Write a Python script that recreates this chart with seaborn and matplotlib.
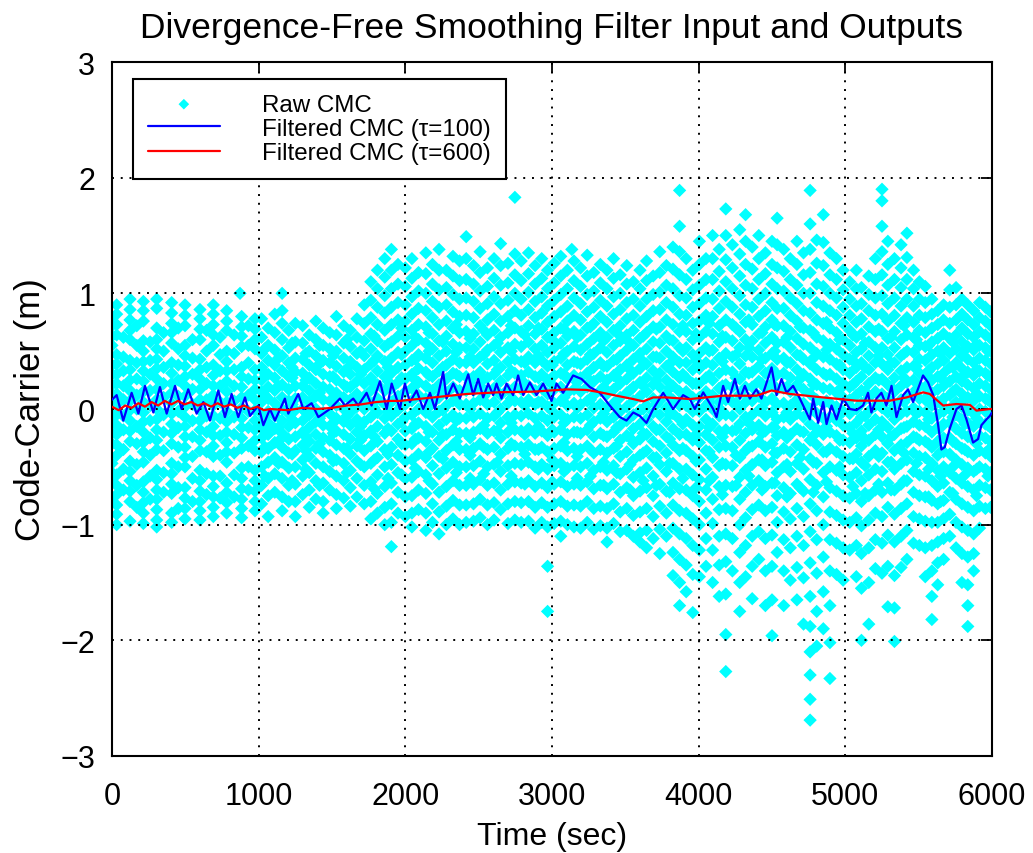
import matplotlib
matplotlib.use("Agg")
import matplotlib.pyplot as plt
import seaborn as sns
import pandas as pd

# ---------------- data ----------------
# Raw CMC: column times (sec) and the code-carrier values (m) stacked at each time
raw_times_a = [0, 32, 78, 123, 169, 214, 260, 305, 352, 407, 452, 498, 549, 600, 645,
               691, 737, 782, 833, 873, 884, 930, 975]
raw_values_a = [
    [0.8, 0.72, 0.63, 0.55, 0.38, 0.3, 0.21, 0.13, 0.05, -0.04, -0.12, -0.21, -0.3, -0.47, -0.55, -0.63, -0.8],
    [0.9, 0.82, 0.73, 0.64, 0.47, 0.39, 0.3, 0.22, 0.13, 0.04, -0.05, -0.14, -0.22, -0.31, -0.4, -0.57, -0.66, -0.74, -0.83, -0.91, -1.0],
    [0.62, 0.45, 0.33, 0.2, 0.08, -0.06, -0.18, -0.35, -0.52, -0.7],
    [0.95, 0.86, 0.77, 0.68, 0.6, 0.42, 0.34, 0.25, 0.16, 0.07, -0.01, -0.1, -0.19, -0.28, -0.45, -0.54, -0.62, -0.71, -0.8, -0.97],
    [0.72, 0.55, 0.4, 0.26, 0.12, 0.0, -0.15, -0.3, -0.48, -0.66, -0.85],
    [0.93, 0.85, 0.76, 0.59, 0.5, 0.41, 0.33, 0.24, 0.15, 0.06, -0.03, -0.11, -0.2, -0.29, -0.37, -0.46, -0.63, -0.72, -0.81, -0.9, -0.99],
    [0.58, 0.42, 0.3, 0.16, 0.03, -0.1, -0.25, -0.4, -0.58, -0.78],
    [0.95, 0.87, 0.7, 0.6, 0.52, 0.43, 0.35, 0.26, 0.17, 0.08, 0.0, -0.09, -0.18, -0.27, -0.35, -0.53, -0.61, -0.7, -0.78, -0.87, -0.96, -1.02],
    [0.66, 0.5, 0.36, 0.22, 0.1, -0.05, -0.2, -0.36, -0.55, -0.72],
    [0.92, 0.83, 0.74, 0.66, 0.57, 0.4, 0.31, 0.22, 0.14, 0.05, -0.04, -0.13, -0.21, -0.3, -0.47, -0.56, -0.65, -0.73, -0.9, -0.98],
    [0.7, 0.52, 0.38, 0.25, 0.11, -0.02, -0.16, -0.33, -0.5, -0.68, -0.86],
    [0.9, 0.81, 0.72, 0.55, 0.46, 0.37, 0.28, 0.2, 0.11, 0.02, -0.07, -0.15, -0.24, -0.33, -0.42, -0.5, -0.68, -0.77, -0.86, -0.95],
    [0.6, 0.44, 0.3, 0.17, 0.04, -0.1, -0.24, -0.41, -0.6, -0.8],
    [0.86, 0.78, 0.69, 0.6, 0.43, 0.34, 0.26, 0.17, 0.08, -0.01, -0.1, -0.18, -0.27, -0.36, -0.53, -0.62, -0.71, -0.8, -0.88, -0.96],
    [0.68, 0.5, 0.36, 0.22, 0.08, -0.06, -0.2, -0.37, -0.56, -0.74],
    [0.9, 0.82, 0.73, 0.64, 0.55, 0.38, 0.29, 0.2, 0.12, 0.03, -0.06, -0.15, -0.23, -0.32, -0.41, -0.58, -0.67, -0.76, -0.85, -0.93],
    [0.62, 0.47, 0.33, 0.2, 0.06, -0.08, -0.23, -0.4, -0.58, -0.77],
    [0.85, 0.76, 0.68, 0.5, 0.41, 0.33, 0.24, 0.15, 0.06, -0.02, -0.11, -0.2, -0.29, -0.37, -0.46, -0.64, -0.72, -0.81, -0.9],
    [0.64, 0.48, 0.34, 0.2, 0.07, -0.07, -0.22, -0.38, -0.57, -0.76],
    [1.0],
    [0.8, 0.71, 0.63, 0.54, 0.36, 0.28, 0.19, 0.1, 0.01, -0.08, -0.16, -0.25, -0.34, -0.51, -0.6, -0.69, -0.78, -0.86, -0.94],
    [0.72, 0.55, 0.4, 0.26, 0.12, -0.02, -0.16, -0.32, -0.5, -0.7],
    [0.78, 0.69, 0.6, 0.52, 0.34, 0.25, 0.17, 0.08, -0.01, -0.1, -0.18, -0.27, -0.36, -0.53, -0.62, -0.71, -0.8, -0.88],
]

raw_times_b = [1020, 1065, 1110, 1160, 1205, 1250, 1300, 1345, 1390, 1440, 1485, 1530, 1580,
               1625, 1670, 1720, 1765, 1810, 1860, 1905, 1950]
raw_values_b = [
    [0.78, 0.62, 0.48, 0.36, 0.25, 0.15, 0.06, -0.04, -0.14, -0.25, -0.37, -0.5, -0.66, -0.82],
    [0.7, 0.55, 0.42, 0.3, 0.19, 0.09, -0.02, -0.12, -0.22, -0.34, -0.46, -0.6, -0.75, -0.93],
    [0.82, 0.66, 0.51, 0.38, 0.27, 0.16, 0.05, -0.06, -0.17, -0.29, -0.42, -0.56, -0.72],
    [1.0, 0.85, 0.74, 0.6, 0.46, 0.33, 0.21, 0.1, 0.0, -0.1, -0.21, -0.33, -0.46, -0.6, -0.76, -0.88],
    [0.68, 0.53, 0.4, 0.28, 0.17, 0.07, -0.04, -0.15, -0.26, -0.38, -0.51, -0.66, -0.8],
    [0.74, 0.58, 0.44, 0.32, 0.2, 0.09, -0.01, -0.12, -0.24, -0.36, -0.5, -0.65, -0.8, -0.93],
    [0.72, 0.57, 0.43, 0.31, 0.2, 0.1, 0.0, -0.1, -0.2, -0.31, -0.44, -0.58, -0.74],
    [0.64, 0.5, 0.38, 0.27, 0.16, 0.06, -0.05, -0.16, -0.28, -0.41, -0.55, -0.7, -0.85],
    [0.76, 0.6, 0.46, 0.34, 0.22, 0.11, 0.0, -0.11, -0.22, -0.34, -0.47, -0.62, -0.78],
    [0.7, 0.55, 0.42, 0.3, 0.19, 0.08, -0.03, -0.14, -0.25, -0.37, -0.5, -0.64, -0.8, -0.9],
    [0.66, 0.52, 0.4, 0.28, 0.17, 0.07, -0.04, -0.15, -0.27, -0.4, -0.54, -0.7],
    [0.8, 0.64, 0.5, 0.37, 0.25, 0.14, 0.03, -0.08, -0.19, -0.31, -0.44, -0.58, -0.74, -0.86],
    [0.72, 0.57, 0.44, 0.32, 0.21, 0.1, 0.0, -0.11, -0.22, -0.34, -0.47, -0.62, -0.77],
    [0.68, 0.54, 0.41, 0.3, 0.19, 0.08, -0.03, -0.14, -0.26, -0.39, -0.53, -0.68, -0.84],
    [0.78, 0.62, 0.48, 0.36, 0.24, 0.13, 0.02, -0.09, -0.2, -0.32, -0.45, -0.6, -0.76],
    [0.9, 0.74, 0.59, 0.46, 0.34, 0.22, 0.11, 0.0, -0.11, -0.23, -0.36, -0.5, -0.66, -0.82],
    [1.1, 0.94, 0.79, 0.65, 0.52, 0.39, 0.27, 0.16, 0.05, -0.07, -0.19, -0.32, -0.47, -0.63, -0.8, -0.95],
    [1.2, 1.04, 0.88, 0.73, 0.59, 0.46, 0.33, 0.21, 0.09, -0.03, -0.15, -0.28, -0.42, -0.57, -0.73, -0.9],
    [1.3, 1.14, 0.98, 0.83, 0.68, 0.54, 0.41, 0.28, 0.16, 0.04, -0.08, -0.21, -0.35, -0.5, -0.67, -0.85, -1.0],
    [1.38, 1.2, 1.04, 0.88, 0.73, 0.58, 0.44, 0.31, 0.18, 0.06, -0.06, -0.19, -0.33, -0.48, -0.64, -0.82, -0.98, -1.19],
    [1.25, 1.08, 0.92, 0.77, 0.63, 0.49, 0.36, 0.23, 0.11, -0.01, -0.13, -0.26, -0.4, -0.55, -0.72, -0.9],
]

raw_times_c = [2000, 2045, 2090, 2140, 2185, 2230, 2280, 2325, 2370, 2415, 2465, 2510, 2560,
               2605, 2650, 2700, 2747, 2790, 2840, 2885, 2930, 2970]
raw_values_c = [
    [1.22, 1.06, 0.9, 0.76, 0.62, 0.5, 0.38, 0.26, 0.15, 0.04, -0.07, -0.19, -0.31, -0.45, -0.6, -0.76, -0.93],
    [1.3, 1.13, 0.97, 0.82, 0.68, 0.55, 0.42, 0.3, 0.18, 0.07, -0.05, -0.17, -0.3, -0.44, -0.59, -0.75, -0.9, -1.02],
    [1.18, 1.02, 0.87, 0.73, 0.6, 0.47, 0.35, 0.23, 0.12, 0.0, -0.12, -0.25, -0.39, -0.54, -0.7, -0.87],
    [1.35, 1.17, 1.0, 0.85, 0.71, 0.57, 0.44, 0.32, 0.2, 0.09, -0.03, -0.15, -0.28, -0.42, -0.57, -0.73, -0.9, -1.05],
    [1.25, 1.08, 0.93, 0.79, 0.65, 0.52, 0.4, 0.28, 0.16, 0.05, -0.07, -0.2, -0.34, -0.49, -0.65, -0.82, -0.98],
    [1.38, 1.2, 1.03, 0.88, 0.73, 0.59, 0.46, 0.33, 0.21, 0.1, -0.02, -0.14, -0.27, -0.41, -0.56, -0.72, -0.89, -1.08],
    [1.2, 1.05, 0.9, 0.76, 0.63, 0.5, 0.38, 0.26, 0.14, 0.03, -0.09, -0.22, -0.36, -0.51, -0.67, -0.84, -1.0],
    [1.32, 1.15, 0.99, 0.84, 0.7, 0.56, 0.43, 0.31, 0.19, 0.07, -0.05, -0.18, -0.31, -0.46, -0.62, -0.79, -0.95],
    [1.28, 1.11, 0.95, 0.8, 0.66, 0.53, 0.4, 0.28, 0.16, 0.04, -0.08, -0.21, -0.35, -0.5, -0.66, -0.83, -1.0],
    [1.49, 1.3, 1.12, 0.96, 0.81, 0.67, 0.53, 0.4, 0.28, 0.16, 0.04, -0.08, -0.21, -0.35, -0.5, -0.66, -0.83, -0.98],
    [1.24, 1.08, 0.93, 0.79, 0.65, 0.52, 0.4, 0.28, 0.16, 0.05, -0.07, -0.2, -0.34, -0.49, -0.65, -0.82, -0.97],
    [1.36, 1.18, 1.02, 0.87, 0.72, 0.58, 0.45, 0.32, 0.2, 0.08, -0.04, -0.17, -0.3, -0.45, -0.61, -0.78, -0.94],
    [1.22, 1.06, 0.91, 0.77, 0.64, 0.51, 0.39, 0.27, 0.15, 0.04, -0.08, -0.21, -0.35, -0.5, -0.66, -0.83, -1.0],
    [1.3, 1.13, 0.97, 0.82, 0.68, 0.55, 0.42, 0.3, 0.18, 0.06, -0.06, -0.19, -0.33, -0.48, -0.64, -0.81, -0.96],
    [1.43, 1.24, 1.07, 0.91, 0.76, 0.62, 0.49, 0.36, 0.24, 0.12, 0.0, -0.12, -0.25, -0.39, -0.54, -0.7, -0.87],
    [1.26, 1.09, 0.94, 0.8, 0.66, 0.53, 0.41, 0.29, 0.17, 0.05, -0.07, -0.2, -0.34, -0.49, -0.65, -0.82, -0.99],
    [1.83, 1.34, 1.16, 1.0, 0.85, 0.7, 0.56, 0.43, 0.31, 0.19, 0.07, -0.05, -0.18, -0.32, -0.47, -0.63, -0.8, -0.96],
    [1.28, 1.11, 0.95, 0.81, 0.67, 0.54, 0.41, 0.29, 0.17, 0.06, -0.06, -0.19, -0.33, -0.48, -0.64, -0.81, -0.98],
    [1.35, 1.17, 1.01, 0.86, 0.72, 0.58, 0.45, 0.32, 0.2, 0.08, -0.04, -0.17, -0.31, -0.46, -0.62, -0.8, -0.97],
    [1.24, 1.08, 0.93, 0.79, 0.65, 0.52, 0.4, 0.28, 0.16, 0.04, -0.08, -0.21, -0.35, -0.5, -0.67, -0.85, -1.03],
    [1.3, 1.13, 0.97, 0.83, 0.69, 0.55, 0.42, 0.3, 0.18, 0.06, -0.06, -0.19, -0.33, -0.48, -0.64, -0.81, -0.98],
    [1.2, 1.04, 0.89, 0.75, 0.62, 0.49, 0.37, 0.25, 0.13, 0.02, -0.1, -0.23, -0.37, -0.52, -0.68, -0.85, -1.02, -1.36, -1.75],
]

raw_times_d = [3015, 3060, 3105, 3135, 3150, 3195, 3240, 3285, 3330, 3375, 3420, 3465, 3510,
               3555, 3600, 3645, 3690, 3735, 3780, 3825, 3870, 3915, 3960]
raw_values_d = [
    [1.26, 1.09, 0.94, 0.8, 0.66, 0.53, 0.41, 0.29, 0.17, 0.05, -0.07, -0.2, -0.34, -0.49, -0.65, -0.82, -0.99],
    [1.32, 1.15, 0.99, 0.84, 0.7, 0.57, 0.44, 0.31, 0.19, 0.07, -0.05, -0.18, -0.32, -0.47, -0.63, -0.8, -0.97, -1.1],
    [1.2, 1.04, 0.89, 0.76, 0.63, 0.5, 0.38, 0.26, 0.14, 0.03, -0.09, -0.22, -0.36, -0.51, -0.67, -0.84, -1.0],
    [1.38],
    [1.28, 1.11, 0.96, 0.81, 0.67, 0.54, 0.41, 0.29, 0.17, 0.05, -0.07, -0.2, -0.34, -0.49, -0.65, -0.83, -1.02],
    [1.22, 1.06, 0.91, 0.77, 0.64, 0.51, 0.39, 0.27, 0.15, 0.04, -0.08, -0.21, -0.35, -0.5, -0.66, -0.84, -1.03],
    [1.33, 1.15, 0.99, 0.84, 0.7, 0.56, 0.43, 0.31, 0.19, 0.07, -0.05, -0.18, -0.32, -0.47, -0.63, -0.8, -0.98],
    [1.18, 1.02, 0.88, 0.74, 0.61, 0.48, 0.36, 0.24, 0.12, 0.01, -0.11, -0.24, -0.38, -0.53, -0.69, -0.86, -1.04],
    [1.25, 1.09, 0.94, 0.8, 0.66, 0.53, 0.4, 0.28, 0.16, 0.04, -0.08, -0.21, -0.35, -0.5, -0.66, -0.84, -1.01],
    [1.2, 1.04, 0.89, 0.75, 0.62, 0.49, 0.37, 0.25, 0.13, 0.01, -0.11, -0.24, -0.38, -0.53, -0.69, -0.86, -1.03, -1.15],
    [1.3, 1.13, 0.97, 0.82, 0.68, 0.55, 0.42, 0.29, 0.17, 0.05, -0.07, -0.2, -0.34, -0.49, -0.65, -0.82, -0.99],
    [1.16, 1.0, 0.86, 0.72, 0.59, 0.46, 0.34, 0.22, 0.1, -0.02, -0.14, -0.27, -0.41, -0.56, -0.72, -0.89, -1.06],
    [1.24, 1.08, 0.92, 0.78, 0.64, 0.51, 0.38, 0.26, 0.14, 0.02, -0.1, -0.23, -0.37, -0.52, -0.68, -0.86, -1.05],
    [1.1, 0.95, 0.81, 0.68, 0.55, 0.43, 0.31, 0.19, 0.07, -0.05, -0.17, -0.3, -0.44, -0.59, -0.75, -0.92, -1.1],
    [1.2, 1.04, 0.89, 0.75, 0.61, 0.48, 0.35, 0.23, 0.11, -0.01, -0.13, -0.26, -0.4, -0.55, -0.71, -0.89, -1.07, -1.15],
    [1.28, 1.11, 0.95, 0.8, 0.66, 0.52, 0.39, 0.27, 0.15, 0.03, -0.09, -0.22, -0.36, -0.51, -0.68, -0.86, -1.05, -1.2],
    [1.15, 0.99, 0.85, 0.71, 0.58, 0.45, 0.33, 0.21, 0.09, -0.03, -0.15, -0.28, -0.42, -0.58, -0.75, -0.93, -1.12],
    [1.36, 1.18, 1.01, 0.86, 0.71, 0.57, 0.44, 0.31, 0.19, 0.07, -0.05, -0.18, -0.32, -0.48, -0.65, -0.84, -1.04, -1.25],
    [1.24, 1.07, 0.92, 0.77, 0.63, 0.5, 0.37, 0.25, 0.13, 0.01, -0.11, -0.24, -0.38, -0.54, -0.71, -0.9, -1.1],
    [1.4, 1.21, 1.04, 0.88, 0.73, 0.59, 0.45, 0.32, 0.2, 0.08, -0.04, -0.17, -0.31, -0.47, -0.64, -0.83, -1.03, -1.24, -1.44],
    [1.89, 1.58, 1.36, 1.16, 0.98, 0.82, 0.67, 0.53, 0.4, 0.27, 0.15, 0.03, -0.09, -0.22, -0.36, -0.52, -0.69, -0.88, -1.08, -1.3, -1.5, -1.7],
    [1.3, 1.12, 0.96, 0.81, 0.67, 0.53, 0.4, 0.27, 0.15, 0.03, -0.09, -0.22, -0.36, -0.52, -0.7, -0.9, -1.12, -1.35, -1.58],
    [1.2, 1.03, 0.88, 0.74, 0.6, 0.47, 0.34, 0.22, 0.1, -0.02, -0.14, -0.27, -0.41, -0.57, -0.75, -0.95, -1.18, -1.43, -1.76],
]

raw_times_e = [4005, 4050, 4095, 4140, 4185, 4230, 4280, 4320, 4365, 4410, 4455, 4500, 4535,
               4580, 4625, 4670, 4715, 4760, 4805, 4850, 4895, 4940, 4985]
raw_values_e = [
    [1.45, 1.25, 1.07, 0.91, 0.76, 0.62, 0.48, 0.35, 0.22, 0.1, -0.02, -0.15, -0.29, -0.44, -0.61, -0.8, -1.0, -1.22, -1.45],
    [1.3, 1.12, 0.96, 0.81, 0.67, 0.53, 0.4, 0.27, 0.15, 0.03, -0.09, -0.22, -0.36, -0.52, -0.7, -0.9, -1.12, -1.36],
    [1.5, 1.3, 1.12, 0.95, 0.8, 0.65, 0.51, 0.38, 0.25, 0.12, 0.0, -0.13, -0.27, -0.42, -0.59, -0.78, -0.99, -1.22, -1.5],
    [1.38, 1.19, 1.02, 0.87, 0.72, 0.58, 0.44, 0.31, 0.18, 0.06, -0.06, -0.19, -0.33, -0.49, -0.67, -0.87, -1.1, -1.35, -1.62],
    [1.73, 1.5, 1.29, 1.1, 0.93, 0.77, 0.62, 0.48, 0.34, 0.21, 0.08, -0.05, -0.18, -0.32, -0.48, -0.66, -0.86, -1.08, -1.32, -1.6, -1.95, -2.27],
    [1.42, 1.22, 1.04, 0.88, 0.73, 0.59, 0.45, 0.32, 0.19, 0.06, -0.06, -0.19, -0.33, -0.49, -0.67, -0.88, -1.12, -1.4],
    [1.55, 1.34, 1.15, 0.98, 0.82, 0.67, 0.53, 0.39, 0.26, 0.13, 0.0, -0.13, -0.27, -0.42, -0.59, -0.78, -1.0, -1.24, -1.5, -1.75],
    [1.68, 1.45, 1.25, 1.07, 0.9, 0.75, 0.6, 0.46, 0.32, 0.19, 0.06, -0.07, -0.21, -0.36, -0.53, -0.72, -0.94, -1.18, -1.45],
    [1.4, 1.21, 1.04, 0.88, 0.73, 0.59, 0.45, 0.32, 0.19, 0.07, -0.05, -0.18, -0.32, -0.48, -0.66, -0.87, -1.1, -1.36, -1.64],
    [1.5, 1.3, 1.12, 0.95, 0.8, 0.65, 0.51, 0.37, 0.24, 0.11, -0.01, -0.14, -0.28, -0.44, -0.62, -0.83, -1.06, -1.3],
    [1.35, 1.17, 1.0, 0.85, 0.71, 0.57, 0.44, 0.31, 0.18, 0.06, -0.06, -0.19, -0.33, -0.49, -0.67, -0.88, -1.12, -1.4, -1.7],
    [1.45, 1.25, 1.08, 0.92, 0.77, 0.62, 0.48, 0.35, 0.22, 0.09, -0.03, -0.16, -0.3, -0.46, -0.64, -0.85, -1.09, -1.36, -1.65, -1.96],
    [1.65, 1.42, 1.22, 1.04, 0.87, 0.72, 0.57, 0.43, 0.3, 0.17, 0.04, -0.09, -0.23, -0.38, -0.55, -0.75, -0.98, -1.24],
    [1.38, 1.19, 1.02, 0.87, 0.72, 0.58, 0.44, 0.31, 0.18, 0.05, -0.07, -0.2, -0.34, -0.5, -0.68, -0.89, -1.13, -1.4, -1.7],
    [1.3, 1.12, 0.96, 0.81, 0.67, 0.53, 0.4, 0.27, 0.15, 0.03, -0.09, -0.22, -0.37, -0.54, -0.73, -0.95, -1.2, -1.48],
    [1.45, 1.25, 1.07, 0.91, 0.76, 0.61, 0.47, 0.34, 0.21, 0.08, -0.04, -0.17, -0.31, -0.47, -0.65, -0.86, -1.1, -1.37, -1.65],
    [1.35, 1.16, 1.0, 0.85, 0.7, 0.56, 0.43, 0.3, 0.17, 0.05, -0.07, -0.2, -0.35, -0.52, -0.71, -0.93, -1.18, -1.46, -1.86],
    [1.89, 1.6, 1.38, 1.18, 1.0, 0.83, 0.68, 0.53, 0.39, 0.26, 0.13, 0.0, -0.13, -0.27, -0.43, -0.61, -0.82, -1.06, -1.33, -1.62, -1.88, -2.1, -2.3, -2.51, -2.69],
    [1.46, 1.26, 1.08, 0.92, 0.77, 0.62, 0.48, 0.34, 0.21, 0.08, -0.04, -0.17, -0.31, -0.47, -0.66, -0.88, -1.13, -1.42, -1.75, -2.05],
    [1.68, 1.44, 1.24, 1.06, 0.89, 0.74, 0.59, 0.45, 0.31, 0.18, 0.05, -0.08, -0.22, -0.37, -0.55, -0.76, -1.0, -1.28, -1.58, -1.9],
    [1.35, 1.16, 1.0, 0.85, 0.7, 0.56, 0.43, 0.3, 0.17, 0.05, -0.07, -0.2, -0.34, -0.5, -0.68, -0.89, -1.13, -1.4, -1.7, -2.02, -2.33],
    [1.3, 1.12, 0.96, 0.81, 0.66, 0.52, 0.39, 0.26, 0.14, 0.02, -0.1, -0.23, -0.37, -0.53, -0.71, -0.92, -1.16, -1.43],
    [1.2, 1.03, 0.88, 0.74, 0.6, 0.47, 0.34, 0.22, 0.1, -0.02, -0.14, -0.27, -0.41, -0.57, -0.75, -0.96, -1.2, -1.48],
]

raw_times_f = [5030, 5075, 5110, 5160, 5205, 5250, 5290, 5335, 5380, 5420, 5465, 5505, 5545,
               5590, 5630, 5670, 5712, 5755, 5795, 5835, 5875, 5915, 5955, 5990]
raw_values_f = [
    [1.1, 0.95, 0.81, 0.68, 0.55, 0.43, 0.31, 0.19, 0.08, -0.04, -0.16, -0.29, -0.43, -0.59, -0.77, -0.98, -1.22],
    [1.2, 1.04, 0.89, 0.75, 0.62, 0.49, 0.36, 0.24, 0.12, 0.0, -0.12, -0.25, -0.39, -0.55, -0.73, -0.94, -1.18, -1.45],
    [1.05, 0.91, 0.78, 0.65, 0.52, 0.4, 0.28, 0.16, 0.05, -0.07, -0.19, -0.32, -0.46, -0.62, -0.8, -1.01, -1.25, -1.55, -2.0],
    [1.15, 0.99, 0.85, 0.71, 0.58, 0.46, 0.34, 0.22, 0.1, -0.02, -0.14, -0.27, -0.41, -0.57, -0.75, -0.96, -1.2, -1.5, -1.86],
    [1.3, 1.12, 0.96, 0.81, 0.67, 0.53, 0.4, 0.27, 0.15, 0.03, -0.09, -0.22, -0.36, -0.52, -0.7, -0.9, -1.13, -1.38],
    [1.9, 1.8, 1.58, 1.36, 1.16, 0.98, 0.82, 0.67, 0.53, 0.39, 0.26, 0.13, 0.01, -0.11, -0.24, -0.38, -0.54, -0.72, -0.93, -1.16, -1.42],
    [1.45, 1.25, 1.07, 0.91, 0.76, 0.61, 0.47, 0.34, 0.21, 0.09, -0.03, -0.16, -0.3, -0.46, -0.64, -0.85, -1.09, -1.36, -1.71],
    [1.3, 1.12, 0.96, 0.81, 0.67, 0.53, 0.4, 0.27, 0.15, 0.03, -0.09, -0.22, -0.36, -0.52, -0.7, -0.91, -1.15, -1.44, -1.72, -2.01],
    [1.42, 1.22, 1.05, 0.89, 0.74, 0.6, 0.46, 0.33, 0.2, 0.08, -0.04, -0.17, -0.31, -0.47, -0.65, -0.86, -1.1, -1.37],
    [1.52, 1.31, 1.12, 0.95, 0.79, 0.64, 0.5, 0.36, 0.23, 0.1, -0.02, -0.15, -0.29, -0.44, -0.62, -0.82, -1.05, -1.3],
    [1.2, 1.04, 0.89, 0.75, 0.62, 0.49, 0.37, 0.25, 0.13, 0.01, -0.11, -0.24, -0.38, -0.54, -0.72, -0.93, -1.16],
    [1.1, 0.95, 0.81, 0.68, 0.55, 0.43, 0.31, 0.2, 0.09, -0.02, -0.14, -0.27, -0.41, -0.57, -0.75, -0.95, -1.18],
    [1.06, 0.92, 0.79, 0.66, 0.54, 0.42, 0.3, 0.19, 0.08, -0.03, -0.15, -0.28, -0.42, -0.58, -0.76, -0.97, -1.2, -1.45],
    [0.95, 0.82, 0.7, 0.58, 0.47, 0.36, 0.25, 0.14, 0.03, -0.08, -0.2, -0.33, -0.47, -0.62, -0.79, -0.98, -1.18, -1.4, -1.62, -1.82],
    [0.85, 0.73, 0.61, 0.5, 0.39, 0.28, 0.17, 0.06, -0.05, -0.16, -0.28, -0.4, -0.53, -0.67, -0.82, -0.98, -1.15, -1.33, -1.52],
    [0.9, 0.77, 0.65, 0.53, 0.42, 0.31, 0.2, 0.09, -0.02, -0.13, -0.25, -0.37, -0.5, -0.64, -0.79, -0.95, -1.12, -1.3],
    [1.2, 1.03, 0.88, 0.74, 0.61, 0.48, 0.36, 0.24, 0.12, 0.0, -0.12, -0.25, -0.39, -0.55, -0.72, -0.91, -1.1],
    [1.05, 0.9, 0.77, 0.64, 0.52, 0.4, 0.28, 0.17, 0.06, -0.05, -0.17, -0.3, -0.44, -0.6, -0.78, -0.98, -1.2],
    [0.95, 0.82, 0.7, 0.58, 0.46, 0.35, 0.24, 0.13, 0.02, -0.09, -0.21, -0.34, -0.48, -0.64, -0.82, -1.02, -1.25, -1.5],
    [0.9, 0.77, 0.65, 0.54, 0.43, 0.32, 0.21, 0.1, -0.01, -0.12, -0.24, -0.37, -0.51, -0.67, -0.85, -1.05, -1.28, -1.52, -1.7, -1.88],
    [0.85, 0.73, 0.62, 0.51, 0.4, 0.29, 0.18, 0.07, -0.04, -0.15, -0.27, -0.4, -0.54, -0.7, -0.88, -1.08, -1.25, -1.4],
    [0.92, 0.79, 0.67, 0.55, 0.44, 0.33, 0.22, 0.11, 0.0, -0.11, -0.23, -0.36, -0.5, -0.66, -0.84, -1.03],
    [0.88, 0.76, 0.64, 0.53, 0.42, 0.31, 0.2, 0.09, -0.02, -0.13, -0.25, -0.38, -0.52, -0.68, -0.86],
    [0.84, 0.72, 0.61, 0.5, 0.39, 0.28, 0.17, 0.06, -0.05, -0.16, -0.28, -0.41, -0.55, -0.7, -0.85],
]

# extra raw points that fill the dense band around zero (1000-6000 s)
raw_times_g = [1042, 1135, 1228, 1322, 1415, 1508, 1602, 1695, 1788, 1882, 1975, 2068, 2162,
               2255, 2348, 2442, 2535, 2628, 2722, 2815, 2908, 3002, 3082, 3172, 3262, 3352,
               3442, 3532, 3622, 3712, 3802, 3892, 3982, 4072, 4162, 4255, 4342, 4432, 4518,
               4602, 4692, 4782, 4872, 4962, 5052, 5135, 5228, 5312, 5400, 5485, 5568, 5650,
               5733, 5815, 5895, 5972]
raw_values_g = [
    [0.52, 0.31, 0.12, -0.07, -0.19, -0.33, -0.58],
    [0.44, 0.2, 0.01, -0.16, -0.28, -0.47],
    [0.57, 0.36, 0.27, 0.04, -0.09, -0.39, -0.62],
    [0.48, 0.25, -0.03, -0.24, -0.36, -0.52],
    [0.55, 0.39, 0.14, -0.08, -0.3, -0.66],
    [0.46, 0.28, 0.09, -0.12, -0.21, -0.45],
    [0.6, 0.35, 0.19, -0.06, -0.34, -0.55],
    [0.5, 0.3, 0.07, -0.15, -0.27, -0.48],
    [0.63, 0.42, 0.22, 0.01, -0.24, -0.44, -0.69],
    [0.56, 0.36, 0.24, -0.02, -0.17, -0.39, -0.6],
    [0.7, 0.47, 0.27, 0.03, -0.11, -0.3, -0.57],
    [0.62, 0.43, 0.25, 0.1, -0.13, -0.26, -0.51],
    [0.66, 0.5, 0.29, 0.02, -0.2, -0.37, -0.62],
    [0.58, 0.36, 0.14, -0.01, -0.22, -0.43],
    [0.73, 0.49, 0.3, 0.07, -0.1, -0.28, -0.55],
    [0.61, 0.45, 0.23, 0.0, -0.25, -0.4, -0.6],
    [0.68, 0.47, 0.26, 0.11, -0.14, -0.33, -0.56],
    [0.57, 0.34, 0.15, -0.03, -0.19, -0.46],
    [0.72, 0.5, 0.33, 0.09, -0.12, -0.3, -0.58],
    [0.64, 0.4, 0.22, 0.03, -0.22, -0.39, -0.65],
    [0.7, 0.46, 0.27, 0.06, -0.15, -0.35, -0.52],
    [0.6, 0.38, 0.21, -0.02, -0.18, -0.44, -0.63],
    [0.69, 0.48, 0.3, 0.1, -0.12, -0.29, -0.54],
    [0.62, 0.4, 0.23, 0.01, -0.2, -0.41, -0.6],
    [0.71, 0.47, 0.24, 0.08, -0.14, -0.35, -0.58],
    [0.59, 0.37, 0.19, -0.04, -0.23, -0.46, -0.66],
    [0.66, 0.43, 0.27, 0.02, -0.16, -0.32, -0.55],
    [0.57, 0.34, 0.16, -0.07, -0.25, -0.48, -0.7],
    [0.63, 0.41, 0.2, 0.0, -0.21, -0.38, -0.62],
    [0.69, 0.45, 0.25, 0.04, -0.18, -0.42, -0.66],
    [0.6, 0.39, 0.18, -0.05, -0.26, -0.47, -0.72],
    [0.72, 0.5, 0.3, 0.07, -0.13, -0.34, -0.6],
    [0.65, 0.42, 0.22, 0.0, -0.22, -0.45, -0.68],
    [0.74, 0.5, 0.29, 0.06, -0.16, -0.37, -0.62],
    [0.63, 0.41, 0.2, -0.02, -0.24, -0.47, -0.74],
    [0.7, 0.47, 0.27, 0.05, -0.18, -0.4, -0.66],
    [0.77, 0.53, 0.31, 0.09, -0.12, -0.33, -0.58],
    [0.66, 0.43, 0.22, 0.01, -0.21, -0.44, -0.7],
    [0.73, 0.5, 0.28, 0.06, -0.16, -0.38, -0.64],
    [0.62, 0.4, 0.19, -0.03, -0.25, -0.48, -0.76],
    [0.71, 0.46, 0.26, 0.03, -0.19, -0.42, -0.68],
    [0.66, 0.44, 0.21, -0.01, -0.23, -0.46, -0.72],
    [0.75, 0.51, 0.29, 0.07, -0.15, -0.37, -0.63],
    [0.6, 0.38, 0.17, -0.05, -0.27, -0.5],
    [0.64, 0.42, 0.21, 0.0, -0.21, -0.43, -0.67],
    [0.57, 0.36, 0.15, -0.06, -0.26, -0.49, -0.73],
    [0.69, 0.46, 0.25, 0.04, -0.18, -0.41, -0.65],
    [0.62, 0.4, 0.19, -0.02, -0.24, -0.46, -0.7],
    [0.72, 0.48, 0.27, 0.06, -0.16, -0.38, -0.62],
    [0.6, 0.37, 0.17, -0.04, -0.25, -0.47],
    [0.55, 0.33, 0.12, -0.09, -0.3, -0.52, -0.76],
    [0.48, 0.27, 0.05, -0.16, -0.37, -0.58, -0.8],
    [0.58, 0.36, 0.15, -0.07, -0.28, -0.5, -0.73],
    [0.51, 0.3, 0.09, -0.13, -0.35, -0.57],
    [0.56, 0.34, 0.13, -0.08, -0.3, -0.52, -0.75],
    [0.5, 0.29, 0.08, -0.14, -0.36, -0.58],
]

# Filtered CMC, tau = 100 s (blue)
blue_t = [0, 32, 77, 134, 180, 225, 282, 327, 373, 430, 475, 520, 577, 623, 668, 725, 770, 816,
          861, 907, 941, 998, 1032, 1077, 1111, 1179, 1202, 1270, 1304, 1361, 1407, 1486, 1554,
          1588, 1645, 1679, 1736, 1770, 1827, 1873, 1907, 1963, 1997, 2031, 2077, 2122, 2168,
          2202, 2258, 2281, 2327, 2372, 2429, 2463, 2497, 2531, 2565, 2599, 2622, 2656, 2690,
          2735, 2769, 2804, 2849, 2895, 2940, 2997, 3031, 3076, 3144, 3201, 3258, 3326, 3394,
          3462, 3508, 3554, 3599, 3644, 3690, 3758, 3826, 3894, 3940, 3974, 4031, 4099, 4122,
          4167, 4201, 4247, 4281, 4315, 4349, 4394, 4428, 4497, 4531, 4565, 4599, 4644, 4690,
          4724, 4758, 4781, 4815, 4849, 4872, 4906, 4940, 4985, 5031, 5076, 5121, 5155, 5178,
          5212, 5246, 5280, 5315, 5349, 5394, 5428, 5462, 5530, 5564, 5599, 5633, 5655, 5678,
          5712, 5758, 5792, 5826, 5871, 5905, 5928, 5962, 5985, 6000]
blue_y = [0.08, 0.12, -0.10, 0.14, -0.04, 0.20, -0.03, 0.19, -0.04, 0.20, 0.0, 0.17, -0.04,
          0.06, -0.10, 0.16, -0.07, 0.13, -0.07, 0.10, -0.06, 0.03, -0.14, 0.0, -0.10, 0.09,
          -0.04, 0.13, 0.0, 0.05, -0.07, 0.0, 0.09, 0.03, 0.09, 0.03, 0.14, 0.03, 0.24, 0.0,
          0.22, 0.0, 0.22, 0.06, 0.16, 0.0, 0.14, 0.0, 0.32, 0.09, 0.22, 0.09, 0.30, 0.12, 0.26,
          0.10, 0.22, 0.12, 0.22, 0.09, 0.22, 0.12, 0.29, 0.12, 0.23, 0.12, 0.22, 0.07, 0.22,
          0.14, 0.29, 0.26, 0.19, 0.14, 0.03, -0.07, -0.10, -0.03, -0.06, -0.12, 0.0, 0.14, 0.0,
          0.12, 0.086, 0.0, 0.144, 0.0, -0.07, 0.20, 0.06, 0.26, 0.09, 0.20, 0.09, 0.17, 0.09,
          0.36, 0.12, 0.26, 0.14, 0.20, 0.09, 0.0, -0.09, 0.09, -0.12, 0.06, -0.13, 0.03, -0.09,
          0.09, 0.0, -0.01, 0.03, 0.14, -0.03, 0.09, 0.14, 0.03, 0.20, -0.07, 0.12, 0.17, 0.06,
          0.29, 0.23, 0.12, -0.14, -0.35, -0.33, -0.17, 0.0, 0.03, -0.09, -0.29, -0.26, -0.14,
          -0.09, -0.06, -0.03]

# Filtered CMC, tau = 600 s (red)
red_t = [0, 45, 90, 135, 180, 225, 270, 315, 360, 405, 450, 495, 540, 585, 630, 675, 720, 765,
         810, 855, 900, 945, 990, 1035, 1080, 1200, 1300, 1400, 1500, 1600, 1700, 1800, 1900,
         1963, 2190, 2418, 2645, 2872, 3100, 3235, 3327, 3440, 3554, 3622, 3690, 3781, 3940,
         4167, 4394, 4497, 4622, 4849, 5076, 5303, 5417, 5530, 5576, 5667, 5758, 5849, 5894,
         5985, 6000]
red_y = [0.02, -0.01, 0.03, 0.01, 0.05, 0.02, 0.06, 0.03, 0.07, 0.04, 0.07, 0.04, 0.06, 0.03,
         0.05, 0.02, 0.05, 0.02, 0.04, 0.01, 0.03, 0.0, 0.02, -0.01, 0.0, -0.01, 0.01, 0.0, 0.01,
         0.03, 0.04, 0.06, 0.07, 0.07, 0.10, 0.13, 0.145, 0.15, 0.17, 0.165, 0.145, 0.115,
         0.086, 0.066, 0.10, 0.10, 0.086, 0.115, 0.115, 0.16, 0.13, 0.10, 0.072, 0.072, 0.10,
         0.144, 0.13, 0.03, 0.043, 0.036, -0.014, 0.0, 0.0]

x_ticks = [0, 1000, 2000, 3000, 4000, 5000, 6000]
y_ticks = [-3, -2, -1, 0, 1, 2, 3]
title_text = "Divergence-Free Smoothing Filter Input and Outputs"
x_label = "Time (sec)"
y_label = "Code-Carrier (m)"
labels = ["Raw CMC", "Filtered CMC (\u03c4=100)", "Filtered CMC (\u03c4=600)"]

# ---------------- build tables ----------------
rows = []
for times, values in [(raw_times_a, raw_values_a), (raw_times_b, raw_values_b),
                      (raw_times_c, raw_values_c), (raw_times_d, raw_values_d),
                      (raw_times_e, raw_values_e), (raw_times_f, raw_values_f),
                      (raw_times_g, raw_values_g)]:
    for t, ys in zip(times, values):
        for y in ys:
            rows.append((t, y))
raw_df = pd.DataFrame(rows, columns=["Time", "CMC"])
blue_df = pd.DataFrame({"Time": blue_t, "CMC": blue_y})
red_df = pd.DataFrame({"Time": red_t, "CMC": red_y})

# ---------------- plot ----------------
sns.set_style("white")
plt.rcParams["font.family"] = ["Liberation Sans", "DejaVu Sans"]
plt.rcParams["text.color"] = "black"
plt.rcParams["axes.labelcolor"] = "black"

fig = plt.figure(figsize=(10.33, 8.54), dpi=100)
ax = fig.add_axes([0.1084, 0.1136, 0.8519, 0.8126])

sns.scatterplot(data=raw_df, x="Time", y="CMC", marker="D", s=46, color="#00FFFF",
                edgecolor="none", linewidth=0, ax=ax, zorder=1, label=labels[0])
sns.lineplot(data=blue_df, x="Time", y="CMC", color="#0000FF", linewidth=1.6,
             estimator=None, sort=False, ax=ax, zorder=4, label=labels[1])
sns.lineplot(data=red_df, x="Time", y="CMC", color="#FF0000", linewidth=1.6,
             estimator=None, sort=False, ax=ax, zorder=5, label=labels[2])

ax.set_xlim(0, 6000)
ax.set_ylim(-3, 3)
ax.set_xticks(x_ticks)
ax.set_yticks(y_ticks)
ax.set_axisbelow(False)
ax.grid(True, color="black", linestyle=(0, (1, 3.5)), linewidth=1.4, zorder=3)
for sp in ax.spines.values():
    sp.set_color("black")
    sp.set_linewidth(1.5)
ax.tick_params(direction="in", length=8, width=1.3, top=True, right=True,
               labelsize=22, colors="black")
ax.tick_params(axis="x", pad=18)
ax.tick_params(axis="y", pad=12)

ax.set_title(title_text, fontsize=25.5, pad=18, color="black")
ax.set_xlabel(x_label, fontsize=23, labelpad=7, color="black")
ax.set_ylabel(y_label, fontsize=25, labelpad=10, color="black")

leg = ax.legend(loc="upper left", bbox_to_anchor=(0.024, 0.9755), borderaxespad=0,
                frameon=True, fancybox=False, framealpha=1, edgecolor="black",
                fontsize=17.4, handlelength=3.0, handletextpad=1.75, labelspacing=0.1,
                borderpad=0.6, scatterpoints=1, markerscale=0.8)
leg.get_frame().set_linewidth(1.5)

fig.savefig("out.png", dpi=100)
